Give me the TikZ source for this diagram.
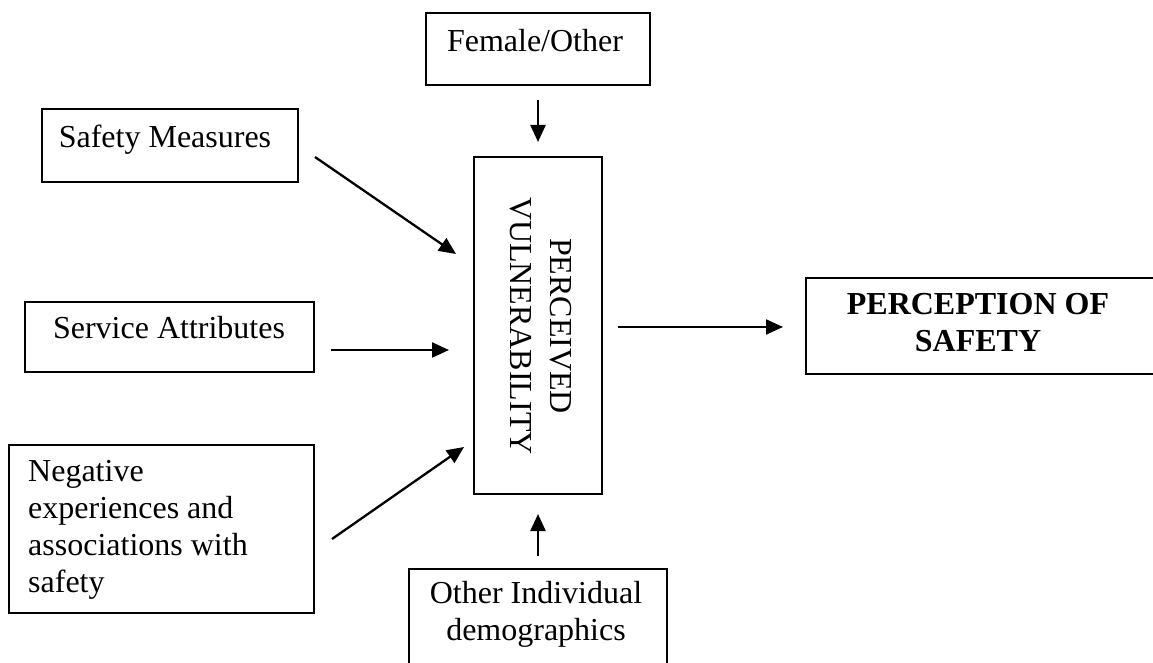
\documentclass[tikz,border=0pt]{standalone}
\usepackage{fontspec}
\setmainfont{Liberation Serif}
\usetikzlibrary{arrows.meta,calc}
\begin{document}
\begin{tikzpicture}[x=1pt,y=-1pt,
  box/.style={draw, line width=2pt, inner sep=0pt, anchor=north west, rectangle},
  lbl/.style={inner sep=0pt, font=\fontsize{32}{37}\selectfont},
  arr/.style={line width=2.3pt, -{Triangle[length=17pt,width=15pt]}}]
\useasboundingbox (0,0) rectangle (1153,663);
\fill[white] (0,0) rectangle (1153,663);
% boxes
\node[box, minimum width=224pt, minimum height=72pt] (fem) at (425,12) {};
\node[box, minimum width=256pt, minimum height=73pt] (saf) at (41,108) {};
\node[box, minimum width=289pt, minimum height=70pt] (ser) at (24,301) {};
\node[box, minimum width=305pt, minimum height=168pt] (neg) at (8,444) {};
\node[box, minimum width=128pt, minimum height=337pt] (pv) at (473,156) {};
\node[box, minimum width=258pt, minimum height=112pt] (oth) at (408,568) {};
\node[box, minimum width=351pt, minimum height=96pt] (pos) at (805,277) {};
% texts
\node[lbl, anchor=base] (femt) at (535,52) {Female/Other};
\node[lbl, anchor=base] (saft) at (165,148) {Safety Measures};
\node[lbl, anchor=base] (sert) at (169,338) {Service Attributes};
\node[lbl, anchor=west, align=left] (negt) at (28,530) {Negative\\experiences and\\associations with\\safety};
\node[lbl, rotate=-90, align=center, font=\fontsize{32}{40}\selectfont] (pvt) at (541,326) {PERCEIVED\\VULNERABILITY};
\node[lbl, align=center] (otht) at (536,614) {Other Individual\\demographics};
\node[lbl, align=center, font=\fontsize{32}{37}\selectfont\bfseries] (post) at (978,323) {PERCEPTION OF\\SAFETY};
% arrows
\draw[arr] ([yshift=-14pt]fem.south) -- ([yshift=14pt]pv.north);
\draw[arr] ($(saf.east)+(16,11.5)$) -- ($(pv.west)+(-17,-71.5)$);
\draw[arr] ($(ser.east)+(16,13)$) -- ($(pv.west)+(-24,24.5)$);
\draw[arr] ($(neg.east)+(17,10)$) -- ($(pv.west)+(-9,121.5)$);
\draw[arr] ($(oth.north)+(0,-12)$) -- ($(pv.south)+(0,19)$);
\draw[arr] ($(pv.east)+(15,1.5)$) -- ($(pos.west)+(-22,1)$);
\end{tikzpicture}
\end{document}
